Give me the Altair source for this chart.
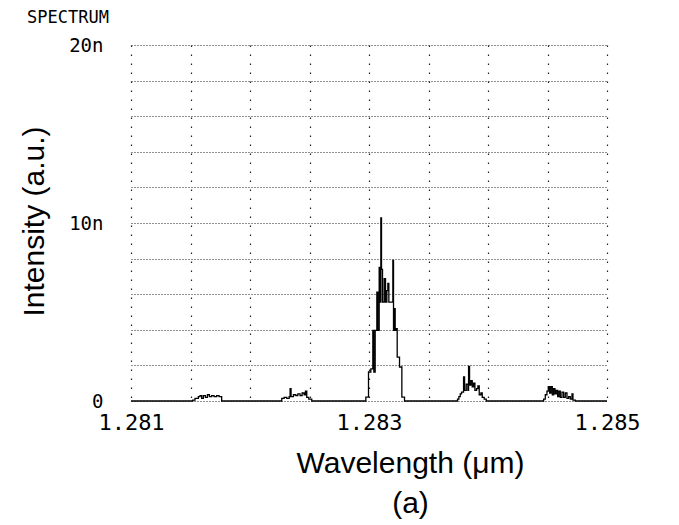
import altair as alt
import pandas as pd

# Spectrum trace (step-wise), wavelength in micrometres, intensity in "n" units
wavelength = [
    1.2810000,
    # bump 1
    1.2815190, 1.2815380, 1.2815660, 1.2815800, 1.2815940, 1.2816080, 1.2816250,
    1.2816420, 1.2816590, 1.2816780, 1.2816980, 1.2817200, 1.2817400, 1.2817620,
    # bump 2
    1.2822670, 1.2822870, 1.2823090, 1.2823290, 1.2823370, 1.2823450, 1.2823650,
    1.2823850, 1.2824020, 1.2824210, 1.2824380, 1.2824550, 1.2824660, 1.2824770,
    1.2824940, 1.2825190,
    # main peak
    1.2829734, 1.2829958, 1.2830154, 1.2830322, 1.2830407, 1.2830519, 1.2830659,
    1.2830743, 1.2830855, 1.2830939, 1.2830995, 1.2831051, 1.2831135, 1.2831276,
    1.2831388, 1.2831500, 1.2831584, 1.2831668, 1.2831920, 1.2832004, 1.2832060,
    1.2832116, 1.2832200, 1.2832285, 1.2832369, 1.2832565, 1.2832761, 1.2832985,
    # bump 3
    1.2837442, 1.2837554, 1.2837666, 1.2837778, 1.2837947, 1.2838031, 1.2838171,
    1.2838311, 1.2838367, 1.2838450, 1.2838563, 1.2838675, 1.2838787, 1.2838899,
    1.2839039, 1.2839151, 1.2839263, 1.2839403, 1.2839515, 1.2839683, 1.2839852,
    # bump 4
    1.2844675, 1.2844815, 1.2844955, 1.2845067, 1.2845179, 1.2845291, 1.2845403,
    1.2845515, 1.2845627, 1.2845739, 1.2845851, 1.2845964, 1.2846076, 1.2846216,
    1.2846356, 1.2846496, 1.2846636, 1.2846776, 1.2846916, 1.2847056, 1.2847140,
    1.2847336,
    1.2850000,
]
intensity = [
    0.0,
    # bump 1
    0.05, 0.15, 0.25, 0.30, 0.15, 0.30, 0.20,
    0.35, 0.25, 0.30, 0.25, 0.30, 0.25, 0.0,
    # bump 2
    0.15, 0.20, 0.15, 0.25, 0.70, 0.25, 0.35,
    0.30, 0.40, 0.30, 0.45, 0.35, 0.55, 0.20,
    0.10, 0.0,
    # main peak
    0.22, 1.63, 1.80, 3.97, 1.63, 3.97, 6.12,
    3.97, 7.50, 5.56, 10.28, 7.40, 5.56, 6.87,
    5.56, 6.20, 6.60, 5.56, 5.56, 7.90, 3.97,
    5.19, 3.97, 4.06, 2.47, 1.91, 0.22, 0.0,
    # bump 3
    0.10, 0.25, 0.40, 0.50, 1.35, 0.60, 0.95,
    0.60, 1.95, 0.90, 1.15, 0.80, 1.00, 0.60,
    0.70, 0.85, 0.35, 0.45, 0.20, 0.10, 0.0,
    # bump 4
    0.10, 0.35, 0.55, 0.80, 0.45, 0.80, 0.35,
    0.70, 0.40, 0.60, 0.25, 0.55, 0.20, 0.50,
    0.20, 0.45, 0.15, 0.25, 0.10, 0.40, 0.05,
    0.0,
    0.0,
]

x_grid_values = [1.281, 1.2815, 1.282, 1.2825, 1.283, 1.2835, 1.284, 1.2845, 1.285]
y_grid_values = [0, 2, 4, 6, 8, 10, 12, 14, 16, 18, 20]

df = pd.DataFrame({"wavelength": wavelength, "intensity": intensity})

mono = "DejaVu Sans Mono"
sans = "Liberation Sans"

chart = (
    alt.Chart(df)
    .mark_line(color="black", strokeWidth=1.3, interpolate="step-after")
    .encode(
        x=alt.X(
            "wavelength:Q",
            scale=alt.Scale(domain=[1.281, 1.285], nice=False, zero=False),
            axis=alt.Axis(
                values=x_grid_values,
                labelExpr="round(datum.value*10000) % 20 == 10 ? format(datum.value, '.3f') : ''",
                grid=True,
                gridDash=[1.5, 7.5],
                gridColor="#222",
                gridWidth=1.2,
                ticks=False,
                domain=False,
                labelFont=mono,
                labelFontSize=22,
                labelColor="black",
                labelPadding=11,
                labelFlush=False,
                labelOverlap=False,
                title=["Wavelength (\u03bcm)", "(a)"],
                titleFont=sans,
                titleFontSize=30,
                titleFontWeight="normal",
                titleColor="black",
                titleLineHeight=40,
                titleX=279,
                titleY=71,
                titleBaseline="alphabetic",
                titleAlign="center",
            ),
        ),
        y=alt.Y(
            "intensity:Q",
            scale=alt.Scale(domain=[0, 20], nice=False),
            axis=alt.Axis(
                values=y_grid_values,
                labelExpr="datum.value == 0 ? '0' : (datum.value % 10 == 0 ? datum.value + 'n' : '')",
                grid=True,
                gridDash=[1, 2],
                gridColor="#222",
                gridWidth=1.2,
                ticks=False,
                domain=False,
                labelFont=mono,
                labelFontSize=19,
                labelColor="black",
                labelPadding=28,
                labelOverlap=False,
                title="Intensity (a.u.)",
                titleFont=sans,
                titleFontSize=30,
                titleFontWeight="normal",
                titleColor="black",
                titleX=-97,
                titleY=176,
                titleBaseline="middle",
                titleAlign="center",
            ),
        ),
    )
    .properties(
        width=476,
        height=356,
        title=alt.TitleParams(
            "SPECTRUM",
            anchor="start",
            frame="group",
            font=mono,
            fontSize=17,
            fontWeight="normal",
            color="black",
            baseline="alphabetic",
            dx=-104,
            offset=-4,
        ),
        autosize=alt.AutoSizeParams(type="none"),
        padding={"left": 123, "top": 37, "right": 50, "bottom": 124},
    )
    .configure_view(stroke=None)
)

chart.save("out.html", embed_options={"renderer": "svg", "actions": False})
